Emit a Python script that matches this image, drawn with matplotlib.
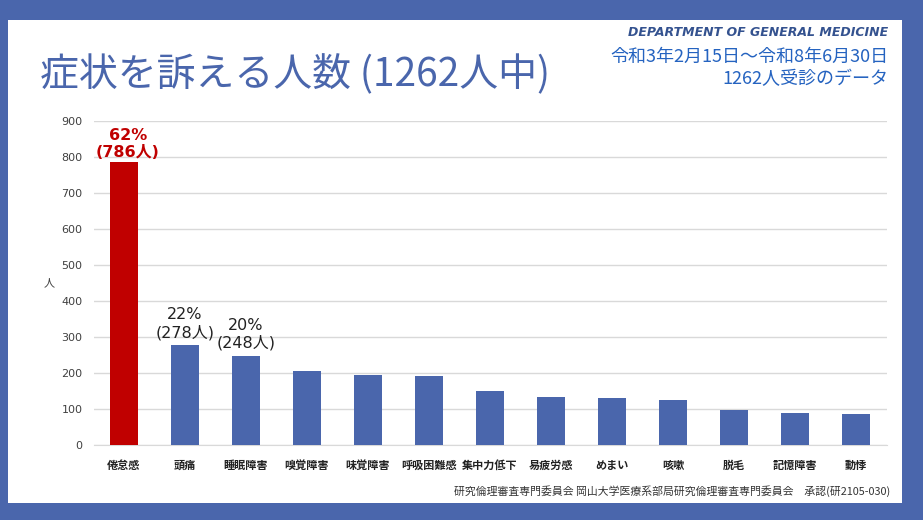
import matplotlib.pyplot as plt
from matplotlib.patches import Rectangle

plt.rcParams['font.family'] = ['DejaVu Sans', 'Noto Sans CJK JP']

# data
symptoms = ['倦怠感', '頭痛', '睡眠障害', '嗅覚障害', '味覚障害', '呼吸困難感', '集中力低下',
            '易疲労感', 'めまい', '咳嗽', '脱毛', '記憶障害', '動悸']
counts = [786, 278, 248, 207, 195, 192, 150, 133, 132, 125, 99, 90, 87]
total = 1262
labelled = [0, 1, 2]
y_ticks = [0, 100, 200, 300, 400, 500, 600, 700, 800, 900]

BLUE = '#4A66AC'
RED = '#C00000'
CJK = ['Noto Sans CJK JP', 'DejaVu Sans']

fig = plt.figure(figsize=(9.23, 5.2), dpi=100)
fig.patch.set_facecolor(BLUE)
# white panel inside the blue frame
fig.patches.append(Rectangle((8 / 923, 1 - 503 / 520), (902 - 8) / 923, (503 - 20) / 520,
                             transform=fig.transFigure, facecolor='white', edgecolor='none', zorder=-10))

ax = fig.add_axes([93.5 / 923, 74.7 / 520, 793 / 923, 324 / 520])
ax.set_facecolor('none')

x = list(range(len(symptoms)))
colors = [RED if i == 0 else BLUE for i in x]
ax.bar(x, counts, width=0.46, color=colors, zorder=3)

ax.set_xlim(-0.5, len(symptoms) - 0.5)
ax.set_ylim(0, 900)
ax.set_yticks(y_ticks)
ax.tick_params(axis='y', length=0, labelsize=8, labelcolor='#404040', pad=8)
ax.tick_params(axis='x', length=0, pad=10)
ax.set_xticks(x)
ax.set_xticklabels(symptoms, family=CJK, fontsize=8, fontweight='bold', color='#222222')
ax.grid(axis='y', color='#D9D9D9', linewidth=1, zorder=0)
for side in ['top', 'right', 'left']:
    ax.spines[side].set_visible(False)
ax.spines['bottom'].set_color('#D9D9D9')
ax.set_ylabel('人', family=CJK, fontsize=8, rotation=0, labelpad=9, va='center', color='#404040')

for i in labelled:
    pct = round(counts[i] / total * 100)
    txt = f'{pct}%\n({counts[i]}人)'
    if i == 0:
        ax.text(i + 0.06, counts[i] + 6, txt, ha='center', va='bottom', fontsize=11.5,
                fontweight='bold', color=RED, linespacing=1.2)
    else:
        ax.text(i, counts[i] + 14, txt, ha='center', va='bottom', fontsize=11.5,
                color='#222222', linespacing=1.2)

fig.text(40 / 923, 1 - 75 / 520, '症状を訴える人数 (1262人中)', family=CJK, fontsize=28,
         color=BLUE, va='center', ha='left')
fig.text(888 / 923, 1 - 32 / 520, 'DEPARTMENT OF GENERAL MEDICINE', fontsize=9,
         fontweight='bold', style='italic', color='#34528F', ha='right', va='center')
fig.text(888 / 923, 1 - 57 / 520, '令和3年2月15日～令和8年6月30日', family=CJK, fontsize=13,
         color='#2563C0', ha='right', va='center')
fig.text(888 / 923, 1 - 79 / 520, '1262人受診のデータ', family=CJK, fontsize=13,
         color='#2563C0', ha='right', va='center')
fig.text(890 / 923, 1 - 491 / 520,
         '研究倫理審査専門委員会 岡山大学医療系部局研究倫理審査専門委員会　承認(研2105-030)',
         family=CJK, fontsize=7.8, color='#333333', ha='right', va='center')

fig.savefig('out.png', dpi=100, facecolor=fig.get_facecolor())
